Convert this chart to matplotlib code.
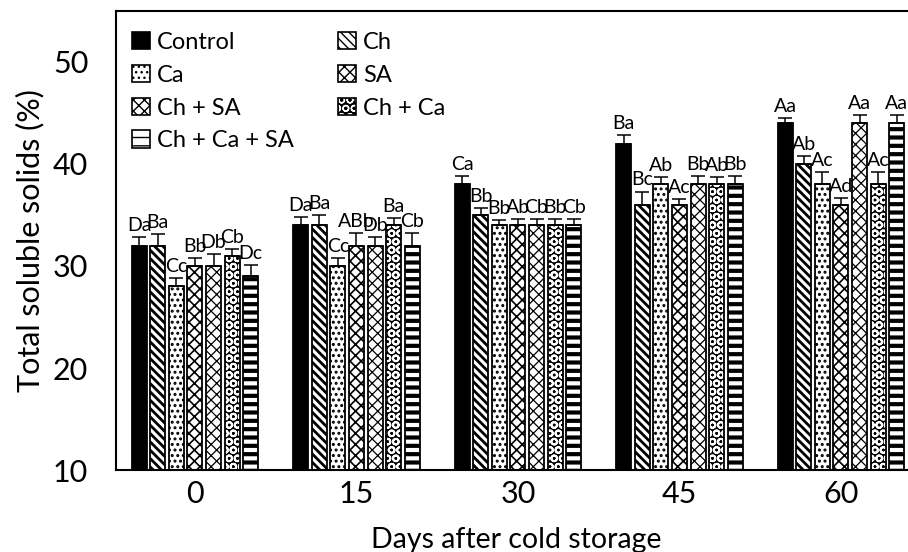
import matplotlib
matplotlib.use("Agg")
import matplotlib.pyplot as plt
from matplotlib.patches import Patch
import numpy as np

plt.rcParams['font.family'] = ['Lato', 'DejaVu Sans']

days = ['0', '15', '30', '45', '60']
# bar order inside each group as drawn
bar_order = ['Control', 'Ch', 'Ca', 'Ch + SA', 'SA', 'Ch + Ca', 'Ch + Ca + SA']

values = {
    'Control':      [32, 34, 38, 42, 44],
    'Ch':           [32, 34, 35, 36, 40],
    'Ca':           [28, 30, 34, 38, 38],
    'Ch + SA':      [30, 32, 34, 36, 36],
    'SA':           [30, 32, 34, 38, 44],
    'Ch + Ca':      [31, 34, 34, 38, 38],
    'Ch + Ca + SA': [29, 32, 34, 38, 44],
}
errors = {
    'Control':      [0.8, 0.8, 0.8, 0.8, 0.5],
    'Ch':           [1.1, 1.0, 0.7, 1.3, 0.8],
    'Ca':           [0.8, 0.8, 0.5, 0.7, 1.2],
    'Ch + SA':      [0.8, 1.2, 0.6, 0.6, 0.7],
    'SA':           [1.2, 0.8, 0.6, 0.8, 0.8],
    'Ch + Ca':      [0.7, 0.7, 0.6, 0.7, 1.2],
    'Ch + Ca + SA': [1.1, 1.2, 0.6, 0.8, 0.8],
}
letters = {
    'Control':      ['Da', 'Da', 'Ca', 'Ba', 'Aa'],
    'Ch':           ['Ba', 'Ba', 'Bb', 'Bc', 'Ab'],
    'Ca':           ['Cc', 'Cc', 'Bb', 'Ab', 'Ac'],
    'Ch + SA':      ['Bb', 'ABb', 'Ab', 'Ac', 'Ad'],
    'SA':           ['Db', 'Db', 'Cb', 'Bb', 'Aa'],
    'Ch + Ca':      ['Cb', 'Ba', 'Bb', 'Ab', 'Ac'],
    'Ch + Ca + SA': ['Dc', 'Cb', 'Cb', 'Bb', 'Aa'],
}

# fill style per treatment: (facecolor, hatch colour, hatch, hatch linewidth)
styles = {
    'Control':      ('black', 'black', None, 1.0),
    'Ch':           ('white', 'black', '\\\\\\\\', 2.0),
    'Ca':           ('white', 'black', '...', 1.4),
    'Ch + SA':      ('white', 'black', 'xxx', 1.2),
    'SA':           ('white', 'black', 'xxx', 0.9),
    'Ch + Ca':      ('black', 'white', 'OO', 1.4),
    'Ch + Ca + SA': ('white', 'black', '--', 3.0),
}


def hatched(fc, hc, hatch, hlw):
    # patch with its own hatch linewidth
    with plt.rc_context({'hatch.linewidth': hlw}):
        p = Patch(facecolor=fc, edgecolor=hc, hatch=hatch, linewidth=0)
    if hasattr(p, 'set_hatch_linewidth'):
        p.set_hatch_linewidth(hlw)
    return p


fig = plt.figure(figsize=(9.08, 5.52), dpi=100)
ax = fig.add_axes([116 / 908, 82 / 552, 800 / 908, 459 / 552])

x = np.arange(len(days))
pitch = 0.115
width = 0.093
for i, name in enumerate(bar_order):
    pos = x + (i - 3) * pitch
    fc, hc, hatch, hlw = styles[name]
    with plt.rc_context({'hatch.linewidth': hlw}):
        bars = ax.bar(pos, values[name], width, facecolor=fc, edgecolor=hc,
                      hatch=hatch, linewidth=0, zorder=2)
        for b in bars:
            if hasattr(b, 'set_hatch_linewidth'):
                b.set_hatch_linewidth(hlw)
    ax.bar(pos, values[name], width, fill=False, edgecolor='black',
           linewidth=1.3, zorder=3)
    ax.errorbar(pos, values[name], yerr=[np.zeros(5), errors[name]],
                fmt='none', ecolor='black', elinewidth=1.1, capsize=5,
                capthick=1.1, zorder=4)
    for p, v, e, t in zip(pos, values[name], errors[name], letters[name]):
        ax.text(p, v + e + 0.3, t, ha='center', va='bottom', fontsize=14)

legend_order = ['Control', 'Ca', 'Ch + SA', 'Ch + Ca + SA', 'Ch', 'SA', 'Ch + Ca']
leg_handles = []
for name in legend_order:
    fc, hc, hatch, hlw = styles[name]
    leg_handles.append((hatched(fc, hc, hatch, hlw),
                        Patch(fill=False, edgecolor='black', linewidth=1.2)))
ax.legend(leg_handles, legend_order, ncol=2, loc='upper left', frameon=False,
          fontsize=17, handlelength=0.75, handleheight=0.75, handletextpad=0.3,
          columnspacing=1.9, labelspacing=0.5, borderaxespad=0.0,
          bbox_to_anchor=(0.008, 0.975))

ax.set_xlim(-0.489, -0.489 + 800 / 161.5)
ax.set_ylim(10, 55)
ax.set_yticks([10, 20, 30, 40, 50])
ax.set_xticks(x)
ax.set_xticklabels(days)
ax.tick_params(axis='both', length=0, labelsize=22)
ax.tick_params(axis='y', pad=20)
ax.tick_params(axis='x', pad=7)
ax.set_ylabel('Total soluble solids (%)', fontsize=22, labelpad=6)
ax.set_xlabel('Days after cold storage', fontsize=20.5)
ax.xaxis.set_label_coords(0.5, -0.125)
for s in ax.spines.values():
    s.set_linewidth(1.5)

fig.savefig('out.png', dpi=100)
